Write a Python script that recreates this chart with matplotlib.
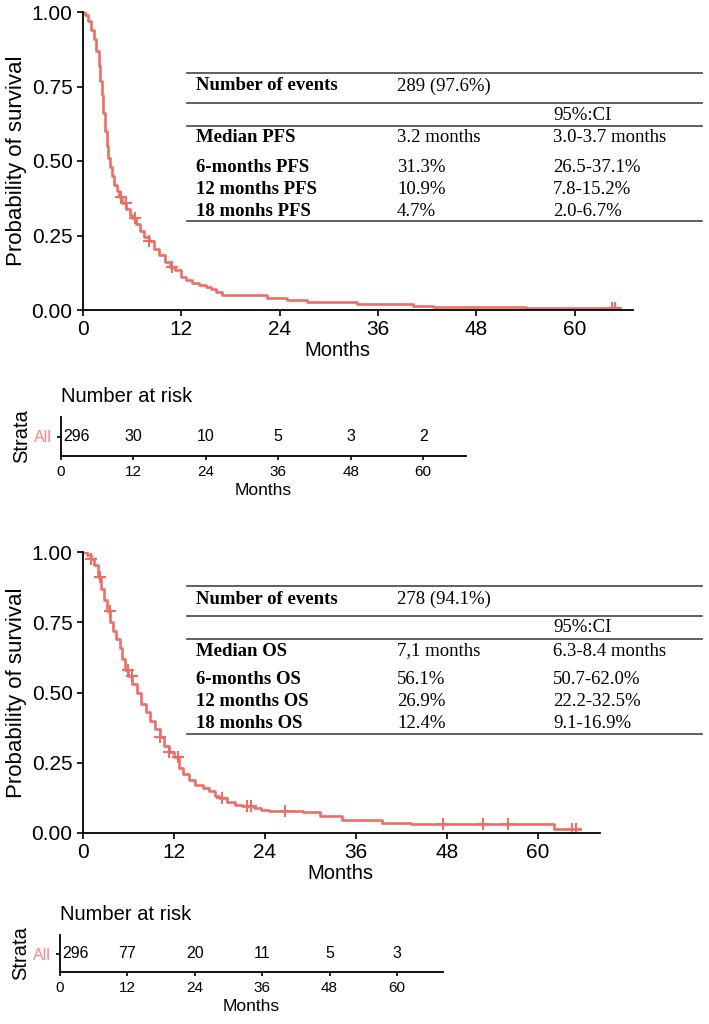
import numpy as np
import matplotlib
matplotlib.use("Agg")
import matplotlib.pyplot as plt

# PFS curve (months, survival)
pfs_t = [0, 0.3, 0.6, 1.0, 1.3, 1.6, 1.9, 2.1, 2.3, 2.5, 2.7, 2.9, 3.1, 3.3, 3.5, 3.8,
         4.1, 4.4, 4.8, 5.3, 5.7, 6.0, 6.5, 7.0, 7.5, 8.0, 8.7, 9.3, 10.0, 10.6, 11.2,
         12.0, 12.6, 13.3, 14.2, 15.0, 15.6, 16.2, 17.0, 22.4, 24.9, 27.3, 33.4, 40.2,
         42.7, 54.1]
pfs_s = [1.0, 0.99, 0.97, 0.94, 0.91, 0.87, 0.82, 0.77, 0.72, 0.66, 0.60, 0.55, 0.51,
         0.48, 0.45, 0.42, 0.40, 0.38, 0.36, 0.34, 0.32, 0.31, 0.29, 0.265, 0.245, 0.23,
         0.205, 0.185, 0.16, 0.145, 0.135, 0.11, 0.10, 0.09, 0.085, 0.078, 0.07, 0.06,
         0.05, 0.04, 0.034, 0.027, 0.02, 0.0135, 0.01, 0.0068]
pfs_end = 65.5
pfs_cens = [4.6, 5.2, 6.4, 8.1, 10.8, 64.5, 64.9]

# OS curve
os_t = [0, 0.5, 1.0, 1.5, 2.0, 2.4, 2.8, 3.2, 3.6, 4.0, 4.4, 4.9, 5.2, 5.6, 6.0, 6.5,
        7.1, 7.7, 8.3, 8.9, 9.5, 10.1, 10.7, 11.3, 12.0, 12.6, 13.2, 14.0, 14.8, 15.8,
        16.6, 17.4, 18.0, 19.0, 20.0, 21.0, 22.5, 23.5, 24.5, 29.0, 31.2, 34.2, 39.5,
        43.3, 62.1]
os_s = [1.0, 0.99, 0.975, 0.955, 0.91, 0.87, 0.83, 0.79, 0.75, 0.72, 0.69, 0.66, 0.62,
        0.58, 0.56, 0.53, 0.50, 0.46, 0.43, 0.40, 0.37, 0.34, 0.31, 0.29, 0.27, 0.23,
        0.21, 0.19, 0.17, 0.16, 0.15, 0.13, 0.124, 0.11, 0.10, 0.095, 0.088, 0.082,
        0.078, 0.075, 0.06, 0.048, 0.037, 0.032, 0.015]
os_end = 65.6
os_cens = [1.1, 2.2, 3.5, 5.9, 6.4, 10.1, 11.4, 12.5, 18.3, 21.7, 22.2, 26.7, 47.5,
           52.7, 56.0, 64.5, 65.0]

risk_times = [0, 12, 24, 36, 48, 60]
pfs_risk = [296, 30, 10, 5, 3, 2]
os_risk = [296, 77, 20, 11, 5, 3]

pfs_table = [["Median PFS", "3.2 months", "3.0-3.7 months"],
             ["6-months PFS", "31.3%", "26.5-37.1%"],
             ["12 months PFS", "10.9%", "7.8-15.2%"],
             ["18 monhs PFS", "4.7%", "2.0-6.7%"]]
pfs_events = "289 (97.6%)"
os_table = [["Median OS", "7,1 months", "6.3-8.4 months"],
            ["6-months OS", "56.1%", "50.7-62.0%"],
            ["12 months OS", "26.9%", "22.2-32.5%"],
            ["18 monhs OS", "12.4%", "9.1-16.9%"]]
os_events = "278 (94.1%)"

RED = "#EC6F67"
W, H = 709, 1024
SANS = ["Liberation Sans", "DejaVu Sans"]
SERIF = ["Liberation Serif", "DejaVu Serif"]

fig = plt.figure(figsize=(W / 100, H / 100), dpi=100)


def box(x0, y0, x1, y1):
    return [x0 / W, 1 - y1 / H, (x1 - x0) / W, (y1 - y0) / H]


def style(ax):
    for s in ["top", "right"]:
        ax.spines[s].set_visible(False)
    for s in ["left", "bottom"]:
        ax.spines[s].set_linewidth(1.3)
    ax.tick_params(length=4, width=1.2, direction="out")


def km_panel(ax, t, s, tend, cens, xmax, xlab_x, h_px):
    t = np.array(t)
    s = np.array(s)
    ax.step(np.append(t, tend), np.append(s, s[-1]), where="post", color=RED, lw=1.9)
    c = np.array(cens)
    cy = s[np.searchsorted(t, c, side="right") - 1]
    ax.plot(c, cy, ls="none", marker="+", ms=9, mew=1.5, color=RED)
    ax.set_xlim(0, xmax)
    ax.set_ylim(0, 1)
    ax.set_xticks(risk_times)
    ax.set_yticks([0, 0.25, 0.5, 0.75, 1.0])
    ax.set_yticklabels(["0.00", "0.25", "0.50", "0.75", "1.00"])
    for lab in ax.get_xticklabels() + ax.get_yticklabels():
        lab.set_family(SANS)
        lab.set_fontsize(15)
    ax.set_xlabel("Months", family=SANS, fontsize=14.5, labelpad=0)
    ax.xaxis.set_label_coords(xlab_x, -31 / h_px)
    ax.set_ylabel("Probability of survival", family=SANS, fontsize=16, labelpad=3)
    style(ax)


def risk_panel(ax, counts, xmax):
    ax.set_xlim(0, xmax)
    ax.set_ylim(0, 1)
    for i, (tm, n) in enumerate(zip(risk_times, counts)):
        if i == 0:
            ax.text(tm + 0.4, 0.5, str(n), ha="left", va="center", family=SANS, fontsize=11.5)
        else:
            ax.text(tm, 0.5, str(n), ha="center", va="center", family=SANS, fontsize=11.5)
    ax.set_xticks(risk_times)
    ax.set_yticks([0.5])
    ax.set_yticklabels(["All"], color="#F08A84", family=SANS, fontsize=11.5)
    for lab in ax.get_xticklabels():
        lab.set_family(SANS)
        lab.set_fontsize(11)
    ax.set_xlabel("Months", family=SANS, fontsize=12.5, labelpad=3)
    ax.set_ylabel("Strata", family=SANS, fontsize=14.5, labelpad=2)
    ax.set_title("Number at risk", loc="left", family=SANS, fontsize=14.5, pad=11)
    style(ax)
    ax.tick_params(length=3)


def info_table(events, rows, ytop):
    # ytop: pixel y of the top rule
    x0, x1 = 187 / W, 702 / W
    cols = [196 / W, 397 / W, 553 / W]

    def fy(y):
        return 1 - (ytop + y) / H

    for dy in [0, 30, 53, 148]:
        fig.add_artist(plt.Line2D([x0, x1], [fy(dy), fy(dy)], color="#444444", lw=1.2))
    kw = dict(family=SERIF, fontsize=13.5, va="center")
    fig.text(cols[0], fy(13), "Number of events", weight="bold", **kw)
    fig.text(cols[1], fy(13), events, **kw)
    fig.text(cols[2], fy(42), "95%:CI", **kw)
    for row, dy in zip(rows, [65, 94, 116, 138]):
        fig.text(cols[0], fy(dy), row[0], weight="bold", **kw)
        fig.text(cols[1], fy(dy), row[1], **kw)
        fig.text(cols[2], fy(dy), row[2], **kw)


ax1 = fig.add_axes(box(83, 12, 633, 310))
km_panel(ax1, pfs_t, pfs_s, pfs_end, pfs_cens, 67.1, 0.462, 298)
ax2 = fig.add_axes(box(61, 417, 466, 456))
risk_panel(ax2, pfs_risk, 67.1)
info_table(pfs_events, pfs_table, 73)

ax3 = fig.add_axes(box(83, 552, 600, 833))
km_panel(ax3, os_t, os_s, os_end, os_cens, 68.2, 0.497, 281)
ax4 = fig.add_axes(box(60, 935, 443, 972))
risk_panel(ax4, os_risk, 68.2)
info_table(os_events, os_table, 586)

fig.savefig("out.png", dpi=100)
